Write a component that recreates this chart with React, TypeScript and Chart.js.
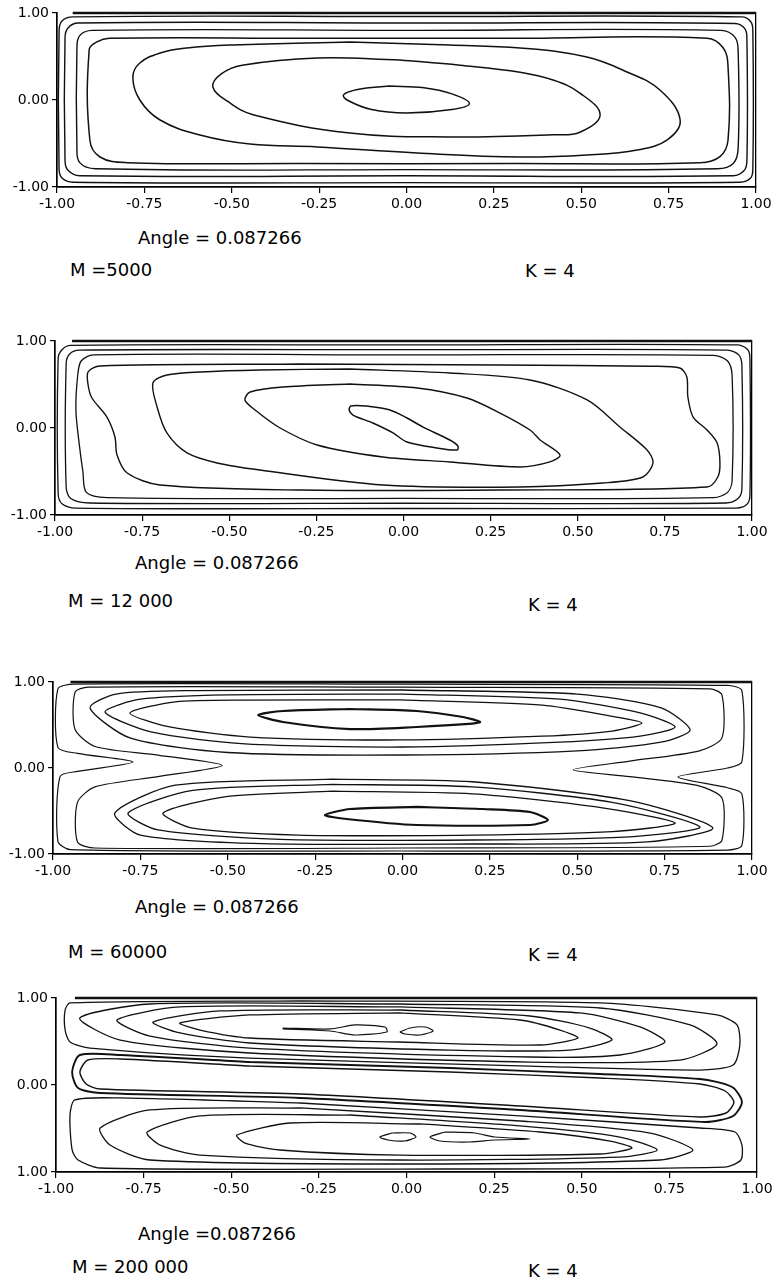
import React, { useEffect, useRef } from "react";
import { Chart, registerables } from "chart.js";

Chart.register(...registerables);

// ---------- tick labels ----------
const X_TICK_LABELS = ["-1.00", "-0.75", "-0.50", "-0.25", "0.00", "0.25", "0.50", "0.75", "1.00"];
const Y_TICK_LABELS = ["-1.00", "0.00", "1.00"];
const Y_TICK_LABELS_P4 = ["1.00", "0.00", "1.00"];

// ---------- captions ----------
const ANGLE_TEXTS = ["Angle = 0.087266", "Angle = 0.087266", "Angle = 0.087266", "Angle =0.087266"];
const M_TEXTS = ["M =5000", "M = 12 000", "M = 60000", "M = 200 000"];
const K_TEXTS = ["K = 4", "K = 4", "K = 4", "K = 4"];

// ---------- contour data (flat x,y pairs, data units) ----------
// Panel 1 : M = 5000
const P1_TOP_WALL = [-0.955, 1, 1, 1];
const P1_C1 = [-0.05, 0.16, 0.05, 0.14, 0.13, 0.07, 0.18, -0.04, 0.13, -0.11, 0.0, -0.15, -0.1, -0.11, -0.17, 0.0, -0.18, 0.06, -0.14, 0.12, -0.05, 0.16];
const P1_C2 = [-0.019, 0.46, 0.153, 0.4, 0.325, 0.32, 0.419, 0.23, 0.496, 0.08, 0.554, -0.17, 0.496, -0.37, 0.419, -0.4, 0.124, -0.425, -0.162, -0.38, -0.439, -0.17, -0.51, -0.02, -0.554, 0.15, -0.53, 0.3, -0.47, 0.4, -0.256, 0.483, -0.019, 0.46];
const P1_C3 = [-0.162, 0.667, 0.124, 0.632, 0.325, 0.598, 0.516, 0.494, 0.631, 0.322, 0.725, 0.115, 0.783, -0.23, 0.745, -0.46, 0.66, -0.575, 0.516, -0.632, 0.325, -0.655, 0.03, -0.609, -0.256, -0.54, -0.448, -0.506, -0.591, -0.402, -0.705, -0.23, -0.763, 0.0, -0.783, 0.264, -0.763, 0.425, -0.705, 0.54, -0.628, 0.598, -0.496, 0.632, -0.162, 0.667];
const P1_O4 = [-0.3, 0.71, 0.3, 0.71, 0.86, 0.71, 0.906, 0.6, 0.92, 0.38, 0.92, -0.46, 0.897, -0.65, 0.84, -0.72, 0.3, -0.73, -0.3, -0.73, -0.8, -0.72, -0.877, -0.655, -0.906, -0.46, -0.908, 0.575, -0.886, 0.667, -0.85, 0.71, -0.3, 0.71];
const P1_O3 = [0, 0.8, 0.9, 0.8, 0.94, 0.72, 0.949, 0.55, 0.949, -0.55, 0.935, -0.73, 0.89, -0.79, 0, -0.8, -0.89, -0.79, -0.935, -0.72, -0.943, -0.55, -0.943, 0.6, -0.935, 0.74, -0.9, 0.8, 0, 0.8];
const P1_O2 = [0, 0.885, 0.94, 0.88, 0.968, 0.82, 0.974, 0.7, 0.974, -0.7, 0.966, -0.81, 0.935, -0.87, 0, -0.87, -0.935, -0.87, -0.968, -0.81, -0.977, -0.7, -0.977, 0.72, -0.968, 0.83, -0.94, 0.885, 0, 0.885];
const P1_O1 = [0, 0.96, 0.96, 0.955, 0.985, 0.9, 0.991, 0.8, 0.991, -0.8, 0.984, -0.9, 0.955, -0.945, 0, -0.95, -0.955, -0.945, -0.985, -0.9, -0.994, -0.8, -0.994, 0.8, -0.985, 0.91, -0.955, 0.955, 0, 0.96];

// Panel 2 : M = 12 000
const P2_TOP_WALL = [-0.951, 1, 1, 1];
const P2_C1 = [-0.105, 0.253, -0.039, 0.207, 0.01, 0.115, 0.056, 0.011, 0.133, -0.138, 0.156, -0.207, 0.154, -0.253, 0.096, -0.23, 0.01, -0.161, -0.03, -0.057, -0.088, 0.057, -0.145, 0.149, -0.156, 0.207, -0.151, 0.253, -0.105, 0.253];
const P2_C2 = [-0.154, 0.506, 0.039, 0.46, 0.182, 0.345, 0.277, 0.172, 0.363, -0.023, 0.392, -0.138, 0.449, -0.31, 0.42, -0.39, 0.334, -0.448, 0.133, -0.39, -0.059, -0.333, -0.248, -0.195, -0.354, 0.0, -0.426, 0.207, -0.455, 0.322, -0.44, 0.414, -0.346, 0.471, -0.154, 0.506];
const P2_C3 = [-0.154, 0.678, 0.133, 0.632, 0.363, 0.552, 0.527, 0.322, 0.621, 0.011, 0.699, -0.253, 0.716, -0.402, 0.687, -0.563, 0.572, -0.632, 0.334, -0.678, -0.059, -0.655, -0.412, -0.483, -0.535, -0.402, -0.621, -0.287, -0.679, -0.057, -0.707, 0.241, -0.719, 0.517, -0.679, 0.609, -0.584, 0.644, -0.412, 0.667, -0.154, 0.678];
const P2_O4 = [-0.297, 0.736, 0.277, 0.724, 0.707, 0.71, 0.793, 0.69, 0.813, 0.586, 0.816, 0.356, 0.831, 0.126, 0.871, -0.023, 0.9, -0.172, 0.908, -0.402, 0.902, -0.563, 0.871, -0.678, 0.277, -0.713, -0.297, -0.713, -0.699, -0.655, -0.793, -0.517, -0.822, -0.31, -0.828, -0.103, -0.851, 0.126, -0.894, 0.345, -0.905, 0.494, -0.905, 0.644, -0.871, 0.713, -0.297, 0.736];
const P2_O3 = [0, 0.84, 0.89, 0.835, 0.93, 0.77, 0.943, 0.6, 0.943, -0.6, 0.93, -0.74, 0.89, -0.8, 0, -0.81, -0.85, -0.8, -0.91, -0.74, -0.92, -0.5, -0.93, -0.2, -0.94, 0.2, -0.935, 0.6, -0.925, 0.77, -0.89, 0.84, 0, 0.84];
const P2_O2 = [0, 0.9, 0.93, 0.895, 0.962, 0.84, 0.971, 0.72, 0.971, -0.7, 0.96, -0.81, 0.925, -0.862, 0, -0.865, -0.9, -0.862, -0.955, -0.81, -0.968, -0.68, -0.968, 0.74, -0.958, 0.85, -0.93, 0.895, 0, 0.9];
const P2_O1 = [0, 0.955, 0.96, 0.955, 0.988, 0.9, 0.994, 0.8, 0.994, -0.78, 0.985, -0.88, 0.955, -0.92, 0, -0.925, -0.94, -0.92, -0.98, -0.87, -0.991, -0.75, -0.991, 0.8, -0.98, 0.9, -0.955, 0.95, 0, 0.955];

// Panel 3 : M = 60000
const P3_TOP_WALL = [-0.95, 1, 1, 1];
const P3_U1 = [-0.15, 0.686, 0.041, 0.663, 0.173, 0.593, 0.222, 0.535, 0.19, 0.512, 0.041, 0.477, -0.15, 0.453, -0.342, 0.535, -0.413, 0.616, -0.342, 0.663, -0.15, 0.686];
const P3_U2 = [-0.007, 0.791, 0.4, 0.73, 0.6, 0.6, 0.685, 0.523, 0.6, 0.43, 0.4, 0.37, -0.007, 0.326, -0.436, 0.36, -0.67, 0.48, -0.78, 0.64, -0.65, 0.77, -0.45, 0.79, -0.007, 0.791];
const P3_U3 = [0, 0.86, 0.45, 0.8, 0.68, 0.64, 0.78, 0.477, 0.68, 0.37, 0.45, 0.3, 0, 0.244, -0.45, 0.28, -0.72, 0.42, -0.851, 0.651, -0.75, 0.8, -0.5, 0.85, 0, 0.86];
const P3_U4 = [0, 0.907, 0.5, 0.86, 0.74, 0.7, 0.823, 0.442, 0.74, 0.3, 0.5, 0.2, 0, 0.151, -0.5, 0.18, -0.78, 0.35, -0.894, 0.698, -0.82, 0.86, -0.6, 0.9, 0, 0.907];
const P3_L1 = [0.041, -0.453, 0.23, -0.477, 0.365, -0.512, 0.416, -0.605, 0.365, -0.663, 0.041, -0.663, -0.16, -0.593, -0.222, -0.547, -0.15, -0.477, 0.041, -0.453];
const P3_L2 = [-0.2, -0.27, 0.2, -0.3, 0.55, -0.45, 0.78, -0.64, 0.6, -0.74, 0.2, -0.78, -0.3, -0.78, -0.6, -0.7, -0.685, -0.523, -0.5, -0.33, -0.2, -0.27];
const P3_L3 = [-0.2, -0.19, 0.2, -0.22, 0.6, -0.4, 0.851, -0.686, 0.65, -0.8, 0.2, -0.837, -0.35, -0.83, -0.7, -0.72, -0.785, -0.523, -0.6, -0.26, -0.2, -0.19];
const P3_L4 = [-0.2, -0.13, 0.2, -0.16, 0.65, -0.38, 0.888, -0.698, 0.7, -0.86, 0.2, -0.884, -0.4, -0.88, -0.75, -0.78, -0.823, -0.523, -0.65, -0.2, -0.2, -0.13];
const P3_W2 = [0, 0.94, 0.88, 0.92, 0.914, 0.85, 0.914, 0.35, 0.85, 0.2, 0.65, 0.08, 0.488, -0.02, 0.65, -0.1, 0.84, -0.2, 0.914, -0.35, 0.914, -0.84, 0.88, -0.91, 0, -0.93, -0.88, -0.93, -0.93, -0.86, -0.93, -0.4, -0.88, -0.22, -0.7, -0.1, -0.516, 0.03, -0.7, 0.15, -0.88, 0.25, -0.937, 0.45, -0.937, 0.88, -0.9, 0.94, 0, 0.94];
const P3_W1 = [0, 0.975, 0.93, 0.96, 0.971, 0.9, 0.971, 0.07, 0.93, 0.0, 0.788, -0.105, 0.93, -0.23, 0.971, -0.3, 0.971, -0.9, 0.93, -0.955, 0, -0.965, -0.95, -0.95, -0.986, -0.85, -0.98, -0.1, -0.93, -0.04, -0.771, 0.07, -0.93, 0.17, -0.986, 0.24, -0.986, 0.92, -0.94, 0.975, 0, 0.975];

// Panel 4 : M = 200 000
const P4_TOP_WALL = [-0.946, 1, 1, 1];
const P4_UE = [-0.304, 0.966, 0.552, 0.943, 0.886, 0.805, 0.943, 0.69, 0.951, 0.46, 0.932, 0.23, 0.837, 0.172, 0.352, 0.218, -0.447, 0.31, -0.903, 0.425, -0.96, 0.494, -0.974, 0.632, -0.974, 0.862, -0.96, 0.943, -0.304, 0.966];
const P4_UD = [-0.019, 0.931, 0.552, 0.885, 0.809, 0.69, 0.886, 0.471, 0.78, 0.287, 0.352, 0.264, -0.447, 0.368, -0.817, 0.517, -0.932, 0.77, -0.732, 0.931, -0.019, 0.931];
const P4_UC = [-0.019, 0.897, 0.495, 0.828, 0.666, 0.667, 0.737, 0.494, 0.609, 0.345, 0.352, 0.322, -0.447, 0.425, -0.732, 0.563, -0.826, 0.747, -0.646, 0.897, -0.019, 0.897];
const P4_UB = [-0.019, 0.862, 0.352, 0.793, 0.523, 0.655, 0.586, 0.517, 0.466, 0.402, 0.124, 0.402, -0.447, 0.483, -0.646, 0.598, -0.723, 0.724, -0.532, 0.851, -0.019, 0.862];
const P4_UA = [-0.019, 0.828, 0.324, 0.747, 0.438, 0.632, 0.489, 0.54, 0.381, 0.46, -0.019, 0.494, -0.447, 0.54, -0.589, 0.632, -0.646, 0.713, -0.447, 0.805, -0.019, 0.828];
const P4_UL1 = [-0.352, 0.655, -0.218, 0.644, -0.147, 0.69, -0.061, 0.667, -0.056, 0.609, -0.147, 0.575, -0.218, 0.621, -0.352, 0.644, -0.352, 0.655];
const P4_UL2 = [-0.019, 0.609, 0.01, 0.655, 0.053, 0.667, 0.076, 0.621, 0.039, 0.575, -0.005, 0.586, -0.019, 0.609];
const P4_MBO = [-0.447, 0.264, 0.124, 0.195, 0.552, 0.126, 0.837, 0.069, 0.929, -0.023, 0.957, -0.195, 0.932, -0.356, 0.852, -0.425, 0.324, -0.287, -0.304, -0.149, -0.874, -0.092, -0.937, -0.034, -0.954, 0.149, -0.932, 0.345, -0.817, 0.345, -0.447, 0.264];
const P4_MBI = [-0.447, 0.218, 0.124, 0.149, 0.552, 0.08, 0.837, 0.011, 0.909, -0.069, 0.934, -0.195, 0.912, -0.322, 0.837, -0.368, 0.324, -0.241, -0.304, -0.103, -0.874, -0.046, -0.914, 0.011, -0.932, 0.149, -0.909, 0.287, -0.817, 0.299, -0.447, 0.218];
const P4_LD = [-0.304, -0.207, 0.324, -0.356, 0.837, -0.494, 0.937, -0.54, 0.957, -0.69, 0.954, -0.862, 0.909, -0.943, -0.019, -0.966, -0.874, -0.954, -0.937, -0.862, -0.954, -0.747, -0.96, -0.345, -0.946, -0.172, -0.817, -0.149, -0.304, -0.207];
const P4_LC = [-0.304, -0.264, 0.324, -0.414, 0.695, -0.552, 0.817, -0.747, 0.723, -0.862, -0.019, -0.908, -0.732, -0.862, -0.846, -0.69, -0.874, -0.494, -0.732, -0.287, -0.304, -0.264];
const P4_LB = [-0.161, -0.345, 0.324, -0.471, 0.609, -0.598, 0.715, -0.747, 0.609, -0.828, -0.019, -0.862, -0.589, -0.805, -0.703, -0.69, -0.74, -0.54, -0.589, -0.356, -0.161, -0.345];
const P4_LA = [0.039, -0.448, 0.381, -0.54, 0.581, -0.644, 0.643, -0.724, 0.552, -0.793, -0.019, -0.805, -0.361, -0.747, -0.461, -0.667, -0.484, -0.575, -0.332, -0.437, 0.039, -0.448];
const P4_LL1 = [-0.041, -0.552, 0.01, -0.552, 0.027, -0.598, -0.005, -0.644, -0.053, -0.632, -0.076, -0.598, -0.041, -0.552];
const P4_LL2 = [0.11, -0.54, 0.195, -0.552, 0.252, -0.598, 0.352, -0.621, 0.252, -0.632, 0.181, -0.655, 0.096, -0.644, 0.067, -0.598, 0.11, -0.54];

// ---------- layout (page pixels) ----------
const PAGE_W = 777;
const PAD_TOP = 10;
const X_AXIS_H = 34;
const FONT = "'DejaVu Sans', 'Liberation Sans', sans-serif";

type Contour = { pts: number[]; w: number };

const PANELS = [
  {
    geom: { left: 57, right: 756, top: 13, bottom: 187 },
    yLabels: Y_TICK_LABELS,
    tension: 0.4,
    contours: [
      { pts: P1_TOP_WALL, w: 2.4 },
      { pts: P1_C1, w: 1.5 },
      { pts: P1_C2, w: 1.5 },
      { pts: P1_C3, w: 1.5 },
      { pts: P1_O4, w: 1.5 },
      { pts: P1_O3, w: 1.4 },
      { pts: P1_O2, w: 1.4 },
      { pts: P1_O1, w: 1.4 },
    ] as Contour[],
    text: { angle: [138, 238], m: [70, 270], k: [525, 271] },
  },
  {
    geom: { left: 55, right: 752, top: 341, bottom: 515 },
    yLabels: Y_TICK_LABELS,
    tension: 0.3,
    contours: [
      { pts: P2_TOP_WALL, w: 2.4 },
      { pts: P2_C1, w: 1.5 },
      { pts: P2_C2, w: 1.4 },
      { pts: P2_C3, w: 1.4 },
      { pts: P2_O4, w: 1.4 },
      { pts: P2_O3, w: 1.3 },
      { pts: P2_O2, w: 1.3 },
      { pts: P2_O1, w: 1.3 },
    ] as Contour[],
    text: { angle: [135, 563], m: [68, 601], k: [528, 605] },
  },
  {
    geom: { left: 53, right: 752, top: 682, bottom: 854 },
    yLabels: Y_TICK_LABELS,
    tension: 0.25,
    contours: [
      { pts: P3_TOP_WALL, w: 2.4 },
      { pts: P3_U1, w: 2.2 },
      { pts: P3_U2, w: 1.3 },
      { pts: P3_U3, w: 1.3 },
      { pts: P3_U4, w: 1.3 },
      { pts: P3_L1, w: 2.2 },
      { pts: P3_L2, w: 1.3 },
      { pts: P3_L3, w: 1.3 },
      { pts: P3_L4, w: 1.3 },
      { pts: P3_W2, w: 1.2 },
      { pts: P3_W1, w: 1.2 },
    ] as Contour[],
    text: { angle: [135, 907], m: [68, 952], k: [528, 955] },
  },
  {
    geom: { left: 56, right: 757, top: 998, bottom: 1172 },
    yLabels: Y_TICK_LABELS_P4,
    tension: 0.25,
    contours: [
      { pts: P4_TOP_WALL, w: 2.4 },
      { pts: P4_UE, w: 1.3 },
      { pts: P4_UD, w: 1.3 },
      { pts: P4_UC, w: 1.3 },
      { pts: P4_UB, w: 1.3 },
      { pts: P4_UA, w: 1.3 },
      { pts: P4_UL1, w: 1.2 },
      { pts: P4_UL2, w: 1.2 },
      { pts: P4_MBO, w: 1.9 },
      { pts: P4_MBI, w: 1.4 },
      { pts: P4_LD, w: 1.3 },
      { pts: P4_LC, w: 1.3 },
      { pts: P4_LB, w: 1.3 },
      { pts: P4_LA, w: 1.3 },
      { pts: P4_LL1, w: 1.2 },
      { pts: P4_LL2, w: 1.2 },
    ] as Contour[],
    text: { angle: [138, 1234], m: [72, 1267], k: [528, 1271] },
  },
];

function toPoints(flat: number[]) {
  const out: { x: number; y: number }[] = [];
  for (let i = 0; i + 1 < flat.length; i += 2) out.push({ x: flat[i], y: flat[i + 1] });
  return out;
}

function Panel({ panel }: { panel: (typeof PANELS)[number] }) {
  const ref = useRef<HTMLCanvasElement | null>(null);
  const { geom } = panel;
  const h = PAD_TOP + (geom.bottom - geom.top) + X_AXIS_H;

  useEffect(() => {
    const canvas = ref.current;
    if (!canvas) return;
    const tickFont = { family: FONT, size: 14 };
    const chart = new Chart(canvas, {
      type: "scatter",
      data: {
        datasets: panel.contours.map((c) => ({
          data: toPoints(c.pts),
          showLine: true,
          borderColor: "#111",
          backgroundColor: "#111",
          borderWidth: c.w,
          pointRadius: 0,
          pointHoverRadius: 0,
          tension: panel.tension,
          fill: false,
          clip: false as any,
        })),
      },
      options: {
        animation: false,
        responsive: false,
        maintainAspectRatio: false,
        events: [],
        layout: { padding: { left: 0, right: PAGE_W - geom.right, top: PAD_TOP, bottom: 0 } },
        plugins: { legend: { display: false }, tooltip: { enabled: false } },
        scales: {
          x: {
            type: "linear",
            min: -1,
            max: 1,
            ticks: {
              stepSize: 0.25,
              autoSkip: false,
              maxRotation: 0,
              minRotation: 0,
              padding: 3,
              color: "#000",
              font: tickFont,
              callback: (_v: any, i: number) => X_TICK_LABELS[i] ?? "",
            },
            grid: { drawOnChartArea: false, drawTicks: true, tickLength: 6, color: "#000", lineWidth: 1.2 },
            border: { display: true, color: "#000", width: 1.7 },
            afterFit: (s: any) => {
              s.height = X_AXIS_H;
              s.paddingLeft = 0;
              s.paddingRight = 0;
            },
          },
          y: {
            type: "linear",
            min: -1,
            max: 1,
            ticks: {
              stepSize: 1,
              padding: 3,
              color: "#000",
              font: tickFont,
              callback: (_v: any, i: number) => panel.yLabels[i] ?? "",
            },
            grid: { drawOnChartArea: false, drawTicks: true, tickLength: 5, color: "#000", lineWidth: 1.2 },
            border: { display: true, color: "#000", width: 1.7 },
            afterFit: (s: any) => {
              s.width = geom.left;
              s.paddingTop = 0;
              s.paddingBottom = 0;
            },
          },
          y2: {
            type: "linear",
            position: "right",
            min: -1,
            max: 1,
            ticks: { display: false },
            grid: { display: false, drawTicks: false },
            border: { display: true, color: "#000", width: 1.3 },
            afterFit: (s: any) => {
              s.width = 0;
            },
          },
        },
      } as any,
    });
    return () => chart.destroy();
  }, []);

  return (
    <canvas
      ref={ref}
      width={PAGE_W}
      height={h}
      style={{ position: "absolute", left: 0, top: geom.top - PAD_TOP, width: PAGE_W, height: h }}
    />
  );
}

function Caption({ text, x, y }: { text: string; x: number; y: number }) {
  return (
    <div
      style={{
        position: "absolute",
        left: x,
        top: y - 11,
        height: 22,
        lineHeight: "22px",
        fontFamily: FONT,
        fontSize: 18,
        color: "#000",
        whiteSpace: "pre",
      }}
    >
      {text}
    </div>
  );
}

export default function App() {
  return (
    <div
      style={{
        position: "absolute",
        left: 0,
        top: 0,
        width: PAGE_W,
        height: 1281,
        background: "#fff",
        overflow: "hidden",
      }}
    >
      {PANELS.map((p, i) => (
        <React.Fragment key={i}>
          <Panel panel={p} />
          <Caption text={ANGLE_TEXTS[i]} x={p.text.angle[0]} y={p.text.angle[1]} />
          <Caption text={M_TEXTS[i]} x={p.text.m[0]} y={p.text.m[1]} />
          <Caption text={K_TEXTS[i]} x={p.text.k[0]} y={p.text.k[1]} />
        </React.Fragment>
      ))}
    </div>
  );
}
